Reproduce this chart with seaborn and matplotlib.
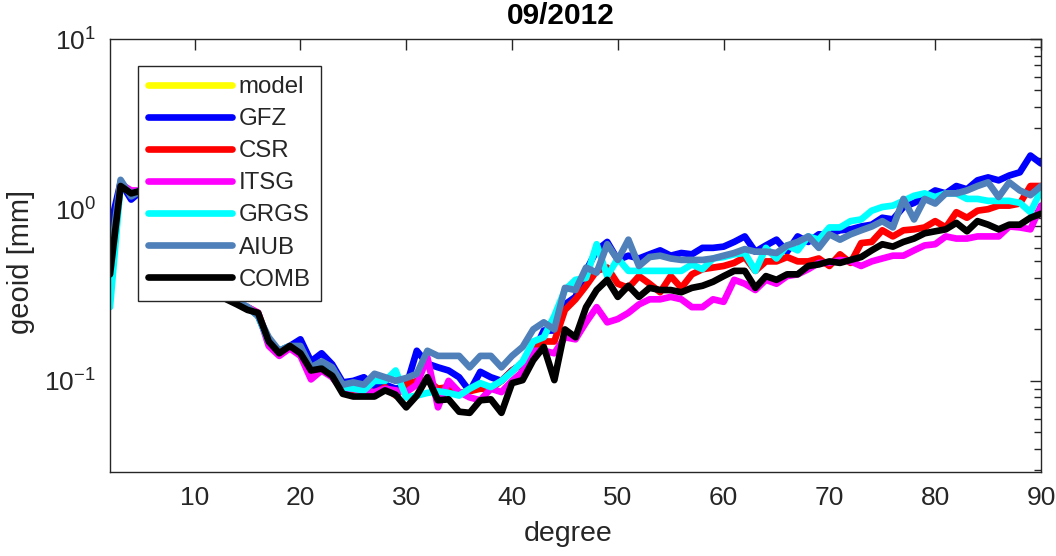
import numpy as np
import pandas as pd
import matplotlib
matplotlib.use("Agg")
import matplotlib.pyplot as plt
import seaborn as sns
from matplotlib.lines import Line2D
from matplotlib.ticker import LogLocator, NullFormatter

degrees = list(range(2, 91))

model = []

GFZ = [0.78, 1.45, 1.15, 1.30, 1.10, 0.92, 0.76, 0.63, 0.53, 0.44,
       0.37, 0.31, 0.29, 0.27, 0.24, 0.17, 0.15, 0.16, 0.175, 0.13,
       0.145, 0.125, 0.098, 0.10, 0.105, 0.093, 0.095, 0.09, 0.093, 0.15,
       0.126, 0.12, 0.115, 0.105, 0.087, 0.113, 0.105, 0.10, 0.115, 0.126,
       0.145, 0.197, 0.197, 0.28, 0.31, 0.44, 0.58, 0.65, 0.51, 0.54,
       0.52, 0.55, 0.58, 0.54, 0.56, 0.55, 0.60, 0.60, 0.61, 0.65,
       0.70, 0.57, 0.62, 0.67, 0.57, 0.70, 0.65, 0.72, 0.72, 0.76,
       0.77, 0.80, 0.82, 0.90, 0.88, 1.04, 1.10, 1.19, 1.30, 1.25,
       1.38, 1.32, 1.49, 1.55, 1.49, 1.59, 1.66, 2.08, 1.87]

CSR = [0.45, 1.40, 1.25, 1.30, 1.10, 0.92, 0.76, 0.63, 0.53, 0.44,
       0.37, 0.31, 0.29, 0.27, 0.25, 0.17, 0.145, 0.16, 0.15, 0.115,
       0.12, 0.11, 0.088, 0.088, 0.09, 0.085, 0.092, 0.082, 0.095, 0.10,
       0.10, 0.09, 0.092, 0.085, 0.087, 0.09, 0.09, 0.10, 0.115, 0.126,
       0.15, 0.17, 0.17, 0.26, 0.30, 0.36, 0.44, 0.46, 0.37, 0.35,
       0.41, 0.37, 0.33, 0.41, 0.35, 0.42, 0.45, 0.46, 0.47, 0.49,
       0.53, 0.44, 0.50, 0.50, 0.53, 0.50, 0.50, 0.52, 0.47, 0.55,
       0.49, 0.64, 0.65, 0.76, 0.70, 0.76, 0.77, 0.79, 0.86, 0.79,
       0.97, 0.90, 0.99, 1.01, 1.06, 1.06, 1.09, 1.38, 1.38]

ITSG = [0.38, 1.42, 1.30, 1.30, 1.10, 0.92, 0.76, 0.63, 0.53, 0.44,
        0.37, 0.31, 0.29, 0.27, 0.25, 0.16, 0.14, 0.155, 0.14, 0.102,
        0.115, 0.105, 0.088, 0.09, 0.086, 0.086, 0.09, 0.088, 0.086, 0.095,
        0.137, 0.07, 0.10, 0.086, 0.08, 0.077, 0.09, 0.086, 0.10, 0.113,
        0.15, 0.15, 0.145, 0.18, 0.175, 0.22, 0.27, 0.22, 0.23, 0.25,
        0.28, 0.30, 0.30, 0.31, 0.30, 0.27, 0.27, 0.30, 0.29, 0.39,
        0.37, 0.34, 0.39, 0.37, 0.41, 0.42, 0.45, 0.49, 0.49, 0.51,
        0.50, 0.47, 0.50, 0.52, 0.54, 0.54, 0.58, 0.62, 0.63, 0.70,
        0.68, 0.68, 0.70, 0.70, 0.70, 0.80, 0.79, 0.77, 1.06]

GRGS = [0.27, 1.40, 1.25, 1.30, 1.10, 0.92, 0.76, 0.63, 0.53, 0.44,
        0.37, 0.31, 0.29, 0.27, 0.24, 0.17, 0.15, 0.16, 0.15, 0.12,
        0.12, 0.11, 0.092, 0.09, 0.088, 0.10, 0.10, 0.115, 0.08, 0.082,
        0.085, 0.087, 0.085, 0.082, 0.09, 0.097, 0.092, 0.10, 0.113, 0.13,
        0.17, 0.18, 0.24, 0.34, 0.39, 0.40, 0.63, 0.41, 0.52, 0.44,
        0.44, 0.44, 0.44, 0.44, 0.44, 0.48, 0.45, 0.52, 0.53, 0.55,
        0.56, 0.44, 0.60, 0.52, 0.62, 0.58, 0.70, 0.67, 0.79, 0.79,
        0.86, 0.88, 0.99, 1.04, 1.06, 1.13, 1.21, 1.25, 1.19, 1.25,
        1.25, 1.16, 1.16, 1.13, 1.13, 1.13, 1.10, 0.97, 1.30]

AIUB = [0.50, 1.50, 1.20, 1.30, 1.10, 0.92, 0.76, 0.63, 0.53, 0.44,
        0.37, 0.31, 0.29, 0.27, 0.24, 0.18, 0.15, 0.16, 0.16, 0.12,
        0.13, 0.12, 0.095, 0.098, 0.095, 0.11, 0.105, 0.10, 0.104, 0.11,
        0.15, 0.14, 0.14, 0.14, 0.12, 0.14, 0.14, 0.12, 0.14, 0.158,
        0.20, 0.22, 0.20, 0.35, 0.34, 0.46, 0.43, 0.63, 0.51, 0.67,
        0.47, 0.53, 0.54, 0.52, 0.51, 0.51, 0.51, 0.52, 0.54, 0.56,
        0.59, 0.57, 0.57, 0.56, 0.62, 0.65, 0.70, 0.60, 0.72, 0.67,
        0.72, 0.76, 0.80, 0.86, 0.79, 1.16, 0.88, 1.16, 1.09, 1.25,
        1.25, 1.30, 1.38, 1.45, 1.19, 1.45, 1.30, 1.22, 1.38]

COMB = [0.42, 1.38, 1.25, 1.30, 1.10, 0.92, 0.76, 0.63, 0.53, 0.44,
        0.37, 0.30, 0.28, 0.26, 0.25, 0.17, 0.145, 0.16, 0.145, 0.115,
        0.118, 0.107, 0.084, 0.081, 0.081, 0.081, 0.088, 0.083, 0.070, 0.082,
        0.105, 0.077, 0.078, 0.066, 0.065, 0.077, 0.078, 0.065, 0.097, 0.101,
        0.132, 0.158, 0.101, 0.20, 0.18, 0.27, 0.34, 0.39, 0.31, 0.36,
        0.31, 0.35, 0.34, 0.34, 0.33, 0.35, 0.36, 0.38, 0.41, 0.44,
        0.44, 0.35, 0.41, 0.39, 0.42, 0.42, 0.47, 0.48, 0.50, 0.49,
        0.51, 0.53, 0.58, 0.63, 0.61, 0.65, 0.68, 0.73, 0.75, 0.77,
        0.84, 0.75, 0.86, 0.82, 0.77, 0.82, 0.82, 0.90, 0.95]

series_names = ["model", "GFZ", "CSR", "ITSG", "GRGS", "AIUB", "COMB"]
series_values = [model, GFZ, CSR, ITSG, GRGS, AIUB, COMB]
colors = ["#FFFF00", "#0000FF", "#FF0000", "#FF00FF", "#00FFFF", "#4F80B9", "#000000"]
xticks = [10, 20, 30, 40, 50, 60, 70, 80, 90]
title = "09/2012"

sns.set_style("white")
plt.rcParams["font.family"] = ["Liberation Sans", "DejaVu Sans"]
plt.rcParams["mathtext.fontset"] = "custom"
plt.rcParams["mathtext.rm"] = "Liberation Sans"

axcol = "#262626"
fig = plt.figure(figsize=(10.56, 5.56), dpi=100)
ax = fig.add_axes([110/1056, 1-472/556, 931/1056, 433/556])

lw = 4.8
handles = []
for name, vals, col in zip(series_names, series_values, colors):
    if len(vals) > 0:
        df = pd.DataFrame({"degree": degrees[:len(vals)], "value": vals})
        sns.lineplot(data=df, x="degree", y="value", color=col, linewidth=lw, ax=ax)
    handles.append(Line2D([], [], color=col, linewidth=lw, label=name))

ax.set_yscale("log")
ax.set_xlim(2, 90)
ax.set_ylim(0.0293, 10)
ax.set_xticks(xticks)
ax.set_xticklabels([str(t) for t in xticks])
ax.yaxis.set_major_locator(LogLocator(base=10, numticks=10))
ax.yaxis.set_minor_locator(LogLocator(base=10, subs=np.arange(2, 10), numticks=10))
ax.yaxis.set_minor_formatter(NullFormatter())
ax.tick_params(axis="both", which="both", direction="in", top=True, right=True,
               color=axcol, labelcolor=axcol, labelsize=19, width=1.0)
ax.tick_params(axis="both", which="major", length=8, pad=10)
ax.tick_params(axis="y", which="minor", length=5)
ax.tick_params(axis="x", which="minor", length=0)
for sp in ax.spines.values():
    sp.set_color(axcol)
    sp.set_linewidth(1.0)
    sp.set_visible(True)

ax.set_xlabel("degree", fontsize=20.5, color=axcol)
ax.xaxis.set_label_coords((568 - 110) / 931, -0.113)
ax.set_ylabel("geoid [mm]", fontsize=21, color=axcol)
ax.yaxis.set_label_coords(-0.081, 0.485)
ax.set_title(title, fontsize=21.5, fontweight="bold", color="black", pad=11,
             x=(561 - 110) / 931)

leg = ax.legend(handles=handles, loc="upper left", bbox_to_anchor=(0.030, 0.9376),
                borderaxespad=0, fontsize=17.3, frameon=True, fancybox=False,
                handlelength=3.5, handletextpad=0.28, labelspacing=0.42,
                borderpad=0.42, edgecolor=axcol)
leg.get_frame().set_linewidth(1.0)
leg.get_frame().set_alpha(1)

fig.savefig("out.png", dpi=100)
